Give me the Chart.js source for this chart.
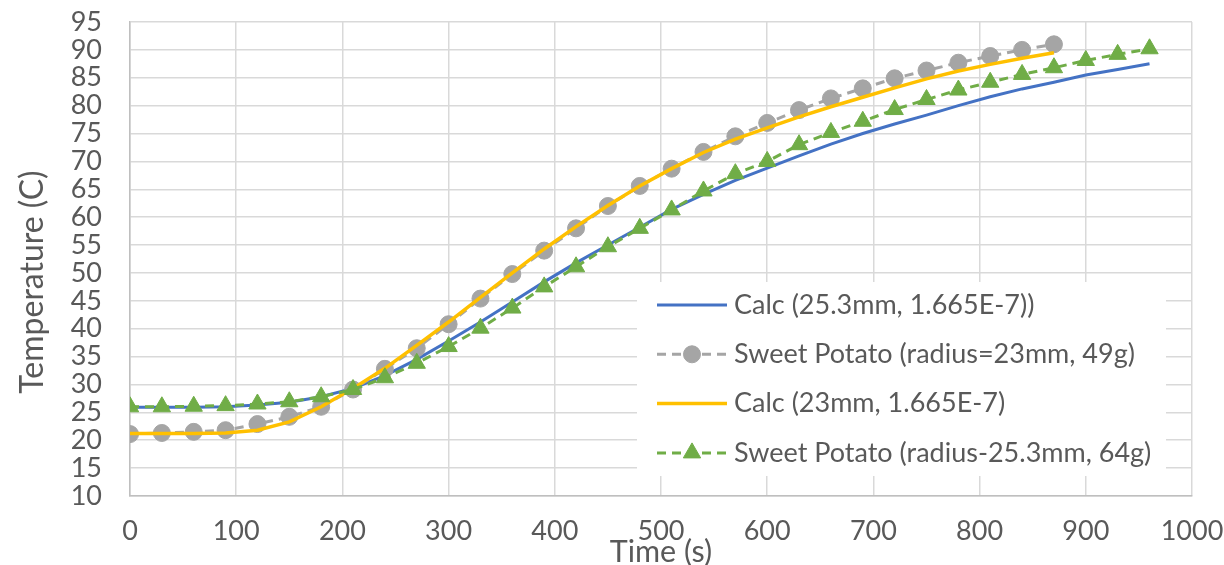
<!DOCTYPE html>
<html>
<head>
<meta charset="utf-8">
<script src="https://cdn.jsdelivr.net/npm/chart.js@4.4.1/dist/chart.umd.min.js"></script>
<style>
  html, body { margin: 0; padding: 0; background: #ffffff; }
  #wrap { width: 1224px; height: 565px; }
</style>
</head>
<body>
<div id="wrap"><canvas id="chart" width="1224" height="565"></canvas></div>
<script>
// Sample times (s)
const time23 = [0,30,60,90,120,150,180,210,240,270,300,330,360,390,420,450,480,510,540,570,600,630,660,690,720,750,780,810,840,870];
const time25 = [0,30,60,90,120,150,180,210,240,270,300,330,360,390,420,450,480,510,540,570,600,630,660,690,720,750,780,810,840,870,900,930,960];

// Calculated centre temperature, 25.3 mm radius (C)
const calc25 = [25.9,25.9,25.9,26.0,26.3,26.8,27.8,29.3,31.6,34.5,37.8,41.2,44.8,48.4,51.8,55.0,58.2,61.4,64.1,66.6,68.8,71.0,73.1,75.0,76.7,78.3,80.0,81.6,83.0,84.2,85.5,86.5,87.5];
// Measured, sweet potato radius 23 mm, 49 g (C)
const meas23 = [21.1,21.3,21.5,21.8,22.9,24.2,26.0,29.1,32.8,36.5,40.8,45.4,49.8,54.0,58.0,62.0,65.6,68.7,71.7,74.5,76.9,79.2,81.3,83.1,84.9,86.3,87.7,88.9,90.0,91.0];
// Calculated centre temperature, 23 mm radius (C)
const calc23 = [21.2,21.2,21.2,21.3,21.8,23.3,26.0,29.3,32.9,37.0,41.2,45.6,50.0,54.3,58.3,62.1,65.6,68.7,71.6,74.0,76.0,78.0,79.8,81.5,83.2,84.8,86.2,87.4,88.5,89.5];
// Measured, sweet potato radius 25.3 mm, 64 g (C)
const meas25 = [26.0,26.0,26.1,26.2,26.5,26.9,27.8,29.1,31.2,33.8,36.8,40.1,43.7,47.5,51.1,54.7,58.0,61.3,64.7,67.8,70.0,73.0,75.2,77.2,79.3,81.1,82.8,84.2,85.6,86.8,88.1,89.2,90.2];

const seriesNames = [
  'Calc (25.3mm, 1.665E-7))',
  'Sweet Potato (radius=23mm, 49g)',
  'Calc (23mm, 1.665E-7)',
  'Sweet Potato (radius-25.3mm, 64g)'
];

const xTitle = 'Time (s)';
const yTitle = 'Temperature (C)';

const FONT = 'Lato, "Open Sans", sans-serif';
const TEXT = '#595959';

function pairs(xs, ys) { return xs.map((x, i) => ({ x: x, y: ys[i] })); }

// Legend drawn as a boxed list inside the plot, lower right
const boxLegend = {
  id: 'boxLegend',
  afterDatasetsDraw(chart) {
    const ctx = chart.ctx;
    const L = { x: 637, y: 282, w: 529, h: 194, row0: 305, step: 49.3, sx0: 657, sx1: 727, tx: 734 };
    ctx.save();
    ctx.fillStyle = '#ffffff';
    ctx.fillRect(L.x, L.y, L.w, L.h);
    chart.data.datasets.forEach((ds, i) => {
      const y = L.row0 + i * L.step;
      ctx.save();
      ctx.strokeStyle = ds.borderColor;
      ctx.lineWidth = ds.borderWidth;
      ctx.setLineDash(ds.borderDash || []);
      ctx.beginPath();
      ctx.moveTo(L.sx0, y);
      ctx.lineTo(L.sx1, y);
      ctx.stroke();
      ctx.restore();
      if (ds.pointRadius > 0) {
        ctx.save();
        ctx.fillStyle = ds.pointBackgroundColor;
        ctx.strokeStyle = ds.pointBorderColor;
        Chart.helpers.drawPoint(ctx, {
          pointStyle: ds.pointStyle, radius: ds.pointRadius, borderWidth: 1, rotation: 0
        }, (L.sx0 + L.sx1) / 2, y);
        ctx.restore();
      }
      ctx.fillStyle = TEXT;
      ctx.font = '27px ' + FONT;
      ctx.textBaseline = 'middle';
      ctx.textAlign = 'left';
      ctx.fillText(ds.label, L.tx, y);
    });
    ctx.restore();
  }
};

// Axis titles
const axisTitles = {
  id: 'axisTitles',
  afterDraw(chart) {
    const ctx = chart.ctx;
    const a = chart.chartArea;
    ctx.save();
    ctx.fillStyle = TEXT;
    ctx.textAlign = 'center';
    ctx.textBaseline = 'middle';
    ctx.font = '30.5px ' + FONT;
    ctx.fillText(xTitle, (a.left + a.right) / 2, 552);
    ctx.translate(33, 282);
    ctx.rotate(-Math.PI / 2);
    ctx.font = '32px ' + FONT;
    ctx.fillText(yTitle, 0, 0);
    ctx.restore();
  }
};

new Chart(document.getElementById('chart'), {
  type: 'line',
  data: {
    datasets: [
      {
        label: seriesNames[0], data: pairs(time25, calc25),
        borderColor: '#4472C4', borderWidth: 3, pointRadius: 0, tension: 0, order: 4
      },
      {
        label: seriesNames[1], data: pairs(time23, meas23),
        borderColor: '#A5A5A5', borderWidth: 3, borderDash: [9, 6],
        pointStyle: 'circle', pointRadius: 8.5, pointBackgroundColor: '#A5A5A5',
        pointBorderColor: '#A5A5A5', pointBorderWidth: 1, tension: 0, order: 3
      },
      {
        label: seriesNames[2], data: pairs(time23, calc23),
        borderColor: '#FFC000', borderWidth: 3.5, pointRadius: 0, tension: 0, order: 2
      },
      {
        label: seriesNames[3], data: pairs(time25, meas25),
        borderColor: '#70AD47', borderWidth: 3, borderDash: [9, 6],
        pointStyle: 'triangle', pointRadius: 10, pointBackgroundColor: '#70AD47',
        pointBorderColor: '#70AD47', pointBorderWidth: 1, tension: 0, order: 1
      }
    ]
  },
  options: {
    responsive: false,
    animation: false,
    devicePixelRatio: 1,
    layout: { padding: { top: 22, right: 32, left: 0, bottom: 0 } },
    plugins: { legend: { display: false }, title: { display: false }, tooltip: { enabled: false } },
    scales: {
      x: {
        type: 'linear', min: 0, max: 1000,
        ticks: {
          stepSize: 100, color: TEXT, font: { family: FONT, size: 27 }, padding: 19,
          maxRotation: 0, autoSkip: false,
          callback: (v) => String(v)
        },
        grid: { color: '#D9D9D9', lineWidth: 1.5, drawTicks: false },
        border: { color: '#BFBFBF', width: 1.5 },
        afterFit(scale) { scale.height = 69; scale.paddingLeft = 0; scale.paddingRight = 0; }
      },
      y: {
        min: 10, max: 95,
        ticks: {
          stepSize: 5, color: TEXT, font: { family: FONT, size: 27 }, padding: 28,
          autoSkip: false, callback: (v) => String(v)
        },
        grid: { color: '#D9D9D9', lineWidth: 1.5, drawTicks: false },
        border: { color: '#BFBFBF', width: 1.5 },
        afterFit(scale) { scale.width = 130; scale.paddingTop = 0; scale.paddingBottom = 0; }
      }
    }
  },
  plugins: [boxLegend, axisTitles]
});
</script>
</body>
</html>
